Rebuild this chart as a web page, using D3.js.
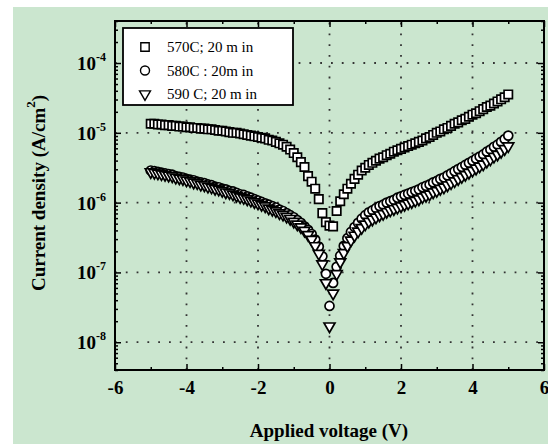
<!DOCTYPE html>
<html>
<head>
<meta charset="utf-8">
<script src="https://cdn.jsdelivr.net/npm/d3@7"></script>
<style>
  body { margin: 0; background: #fff; }
  svg text { font-family: "Liberation Serif", "Times New Roman", serif; }
</style>
</head>
<body>
<svg id="chart" width="548" height="444"></svg>
<script>
// applied voltage (V)
var voltage = [
  -5.0,-4.9,-4.8,-4.7,-4.6,-4.5,-4.4,-4.3,-4.2,-4.1,
  -4.0,-3.9,-3.8,-3.7,-3.6,-3.5,-3.4,-3.3,-3.2,-3.1,
  -3.0,-2.9,-2.8,-2.7,-2.6,-2.5,-2.4,-2.3,-2.2,-2.1,
  -2.0,-1.9,-1.8,-1.7,-1.6,-1.5,-1.4,-1.3,-1.2,-1.1,
  -1.0,-0.9,-0.8,-0.7,-0.6,-0.5,-0.4,-0.3,-0.2,-0.1,
  0.0,0.1,0.2,0.3,0.4,0.5,0.6,0.7,0.8,0.9,
  1.0,1.1,1.2,1.3,1.4,1.5,1.6,1.7,1.8,1.9,
  2.0,2.1,2.2,2.3,2.4,2.5,2.6,2.7,2.8,2.9,
  3.0,3.1,3.2,3.3,3.4,3.5,3.6,3.7,3.8,3.9,
  4.0,4.1,4.2,4.3,4.4,4.5,4.6,4.7,4.8,4.9,
  5.0
];

// log10 of current density (A/cm2)
var log570 = [
  -4.87,-4.87,-4.88,-4.88,-4.89,-4.89,-4.90,-4.90,-4.91,-4.91,
  -4.92,-4.92,-4.93,-4.93,-4.94,-4.94,-4.95,-4.95,-4.96,-4.97,
  -4.97,-4.98,-4.99,-5.00,-5.00,-5.01,-5.02,-5.03,-5.04,-5.05,
  -5.06,-5.07,-5.08,-5.10,-5.11,-5.13,-5.15,-5.17,-5.20,-5.24,
  -5.29,-5.35,-5.42,-5.49,-5.62,-5.70,-5.80,-5.95,-6.15,-6.28,
  -6.33,-6.34,-6.12,-5.98,-5.88,-5.80,-5.73,-5.66,-5.60,-5.54,
  -5.50,-5.46,-5.43,-5.40,-5.37,-5.35,-5.32,-5.30,-5.27,-5.25,
  -5.23,-5.21,-5.19,-5.17,-5.15,-5.13,-5.11,-5.08,-5.06,-5.03,
  -5.00,-4.98,-4.95,-4.93,-4.90,-4.87,-4.85,-4.82,-4.80,-4.77,
  -4.74,-4.72,-4.69,-4.66,-4.63,-4.61,-4.58,-4.55,-4.52,-4.49,
  -4.45
];

var log580 = [
  -5.54,-5.55,-5.56,-5.57,-5.58,-5.59,-5.60,-5.62,-5.63,-5.64,
  -5.66,-5.67,-5.68,-5.70,-5.71,-5.72,-5.74,-5.75,-5.77,-5.78,
  -5.80,-5.81,-5.83,-5.84,-5.86,-5.88,-5.89,-5.91,-5.93,-5.95,
  -5.97,-5.99,-6.01,-6.03,-6.05,-6.07,-6.10,-6.12,-6.15,-6.18,
  -6.21,-6.25,-6.29,-6.34,-6.39,-6.45,-6.53,-6.63,-6.77,-7.02,
  -7.48,-7.15,-6.92,-6.76,-6.62,-6.51,-6.42,-6.35,-6.29,-6.23,
  -6.18,-6.14,-6.11,-6.08,-6.05,-6.03,-6.00,-5.98,-5.96,-5.93,
  -5.91,-5.89,-5.87,-5.85,-5.83,-5.81,-5.78,-5.76,-5.74,-5.71,
  -5.69,-5.66,-5.64,-5.61,-5.58,-5.55,-5.52,-5.49,-5.46,-5.43,
  -5.40,-5.37,-5.34,-5.31,-5.27,-5.24,-5.20,-5.17,-5.13,-5.09,
  -5.04
];

var log590 = [
  -5.56,-5.57,-5.58,-5.59,-5.60,-5.61,-5.62,-5.64,-5.65,-5.66,
  -5.68,-5.69,-5.71,-5.72,-5.74,-5.75,-5.77,-5.78,-5.80,-5.81,
  -5.83,-5.85,-5.86,-5.88,-5.90,-5.92,-5.93,-5.95,-5.97,-5.99,
  -6.01,-6.03,-6.05,-6.08,-6.10,-6.12,-6.15,-6.17,-6.20,-6.23,
  -6.27,-6.31,-6.35,-6.40,-6.46,-6.53,-6.62,-6.73,-6.88,-7.15,
  -7.77,-7.30,-7.02,-6.85,-6.72,-6.62,-6.54,-6.47,-6.41,-6.36,
  -6.31,-6.27,-6.24,-6.21,-6.18,-6.16,-6.13,-6.11,-6.09,-6.07,
  -6.05,-6.03,-6.01,-5.99,-5.97,-5.95,-5.92,-5.90,-5.88,-5.85,
  -5.83,-5.80,-5.78,-5.75,-5.72,-5.69,-5.66,-5.63,-5.60,-5.57,
  -5.54,-5.51,-5.48,-5.45,-5.41,-5.38,-5.34,-5.31,-5.27,-5.23,
  -5.19
];

var seriesNames = ["570C; 20 m in", "580C : 20m in", "590 C; 20 m in"];
var xTicks = [-6, -4, -2, 0, 2, 4, 6];
var xMinor = [-5, -3, -1, 1, 3, 5];
var yTicks = [1e-8, 1e-7, 1e-6, 1e-5, 1e-4];
var yExp = ["-8", "-7", "-6", "-5", "-4"];

var svg = d3.select("#chart");
var W = 548, H = 444;
var L = 115, R = 544, T = 21, B = 370;

// page background: green with a thin white margin top/left
svg.append("rect").attr("x", 13).attr("y", 7).attr("width", W - 13).attr("height", H - 7)
  .attr("fill", "#cbe6cf");

var x = d3.scaleLinear().domain([-6, 6]).range([L, R]);
var y = d3.scaleLog().domain([4e-9, 4e-4]).range([B, T]);

// dotted grid
var grid = svg.append("g").attr("stroke", "#333").attr("stroke-width", 1.8)
  .attr("stroke-dasharray", "1.8,9");
grid.selectAll(".gx").data([-4, -2, 0, 2, 4]).enter().append("line")
  .attr("x1", d => x(d)).attr("x2", d => x(d)).attr("y1", B).attr("y2", T);
grid.selectAll(".gy").data(yTicks).enter().append("line")
  .attr("y1", d => y(d)).attr("y2", d => y(d)).attr("x1", L).attr("x2", R);

// minor y tick values (2..9 per decade)
var yMinor = [];
[1e-9, 1e-8, 1e-7, 1e-6, 1e-5, 1e-4].forEach(function(dec) {
  for (var k = 2; k <= 9; k++) {
    var v = dec * k;
    if (v >= 4e-9 && v <= 4e-4) yMinor.push(v);
  }
});

function styleAxis(g) {
  g.select(".domain").remove();
  g.selectAll("line").attr("stroke", "#000").attr("stroke-width", 1.5);
}

// bottom axis
svg.append("g").attr("transform", "translate(0," + B + ")")
  .call(d3.axisBottom(x).tickValues(xTicks).tickSize(-6).tickPadding(10).tickFormat(d3.format("d")))
  .call(styleAxis)
  .call(g => g.selectAll("text").attr("font-size", 19).attr("font-weight", "bold")
    .attr("fill", "#000").attr("dy", "0.72em").text(d => d < 0 ? "-" + Math.abs(d) : d));
svg.append("g").attr("transform", "translate(0," + B + ")")
  .call(d3.axisBottom(x).tickValues(xMinor).tickSize(-3).tickFormat(""))
  .call(styleAxis);
// top axis
svg.append("g").attr("transform", "translate(0," + T + ")")
  .call(d3.axisTop(x).tickValues(xTicks).tickSize(-6).tickFormat(""))
  .call(styleAxis);
svg.append("g").attr("transform", "translate(0," + T + ")")
  .call(d3.axisTop(x).tickValues(xMinor).tickSize(-3).tickFormat(""))
  .call(styleAxis);

// left axis
svg.append("g").attr("transform", "translate(" + L + ",0)")
  .call(d3.axisLeft(y).tickValues(yTicks).tickSize(-6).tickFormat(""))
  .call(styleAxis);
svg.append("g").attr("transform", "translate(" + L + ",0)")
  .call(d3.axisLeft(y).tickValues(yMinor).tickSize(-3).tickFormat(""))
  .call(styleAxis);
// right axis
svg.append("g").attr("transform", "translate(" + R + ",0)")
  .call(d3.axisRight(y).tickValues(yTicks).tickSize(-6).tickFormat(""))
  .call(styleAxis);
svg.append("g").attr("transform", "translate(" + R + ",0)")
  .call(d3.axisRight(y).tickValues(yMinor).tickSize(-3).tickFormat(""))
  .call(styleAxis);

// y tick labels 10^n
var ylab = svg.append("g").attr("font-weight", "bold").attr("fill", "#000");
yTicks.forEach(function(v, i) {
  var t = ylab.append("text").attr("x", 77).attr("y", y(v) + 7).attr("font-size", 19);
  t.append("tspan").text("10");
  t.append("tspan").attr("font-size", 12).attr("dy", -9).text(yExp[i]);
});

// frame
svg.append("rect").attr("x", L).attr("y", T).attr("width", R - L).attr("height", B - T)
  .attr("fill", "none").attr("stroke", "#000").attr("stroke-width", 2);

// data
function pts(logs) {
  return voltage.map((v, i) => ({ v: v, j: Math.pow(10, logs[i]) }));
}
var sym = [d3.symbolSquare, d3.symbolCircle, d3.symbolTriangle];
var symSize = [70, 64, 52];
var sets = [pts(log570), pts(log580), pts(log590)];

sets.forEach(function(data, s) {
  var shape = d3.symbol().type(sym[s]).size(symSize[s]);
  svg.append("g").selectAll("path").data(data).enter().append("path")
    .attr("d", shape)
    .attr("transform", d => "translate(" + x(d.v) + "," + y(d.j) + ")" + (s === 2 ? " rotate(180)" : ""))
    .attr("fill", "#fff").attr("stroke", "#000").attr("stroke-width", 1.7);
});

// legend
var lg = svg.append("g");
lg.append("rect").attr("x", 123).attr("y", 28).attr("width", 170).attr("height", 77)
  .attr("fill", "#fff").attr("stroke", "#000").attr("stroke-width", 1.8);
seriesNames.forEach(function(name, s) {
  var cy = 47 + s * 23.5;
  lg.append("path").attr("d", d3.symbol().type(sym[s]).size(symSize[s]))
    .attr("transform", "translate(145," + cy + ")" + (s === 2 ? " rotate(180)" : ""))
    .attr("fill", "#fff").attr("stroke", "#000").attr("stroke-width", 1.4);
  lg.append("text").attr("x", 167).attr("y", cy + 5).attr("font-size", 15)
    .attr("fill", "#000").text(name);
});

// axis titles
svg.append("text").attr("x", 329).attr("y", 437).attr("text-anchor", "middle")
  .attr("font-size", 19).attr("font-weight", "bold").attr("fill", "#000")
  .text("Applied voltage (V)");
var yt = svg.append("text").attr("transform", "translate(45,193) rotate(-90)")
  .attr("text-anchor", "middle").attr("font-size", 19).attr("font-weight", "bold").attr("fill", "#000");
yt.append("tspan").text("Current density (A/cm");
yt.append("tspan").attr("font-size", 13).attr("dy", -10).text("2");
yt.append("tspan").attr("dy", 10).text(")");
</script>
</body>
</html>
